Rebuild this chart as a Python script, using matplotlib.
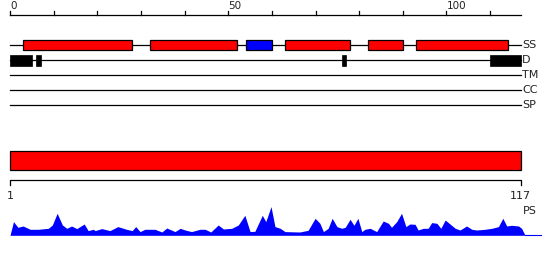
import numpy as np
import matplotlib
matplotlib.use('Agg')
import matplotlib.pyplot as plt
from matplotlib.patches import Rectangle

# sequence length and ruler
seq_len = 117
ruler_ticks = np.arange(0, 111, 10)
ruler_labels = [0, 50, 100]

# secondary structure (start, end, type)
ss_start = [3, 32, 54, 63, 82, 93]
ss_end = [28, 52, 60, 78, 90, 114]
ss_type = ['H', 'H', 'E', 'H', 'H', 'H']
ss_colors = {'H': '#ff0000', 'E': '#0000ff'}

# disordered regions
dis_start = [0, 6, 76, 110]
dis_end = [5, 7, 77, 117]

track_names = ['SS', 'D', 'TM', 'CC', 'SP']

# domain bar
dom_start, dom_end = 1, 117

# profile (PS)
ps_pos = [0.0, 0.8, 1.8, 3.0, 4.6, 6.5, 8.8, 9.7, 10.8, 12.0, 13.0, 14.1, 15.3,
          17.0, 17.9, 19.1, 19.5, 21.0, 22.9, 24.7, 26.7, 28.0, 28.8, 29.8, 30.9,
          33.2, 34.8, 35.9, 37.8, 39.0, 40.1, 41.6, 43.5, 44.7, 46.0, 47.7, 48.9,
          50.8, 52.3, 53.8, 55.0, 56.1, 57.8, 58.6, 59.8, 60.7, 61.9, 63.0, 66.4,
          68.3, 69.9, 71.0, 71.8, 72.9, 73.8, 74.9, 76.0, 76.8, 77.9, 78.8, 79.7,
          80.6, 81.3, 82.5, 84.0, 85.5, 86.7, 87.4, 88.6, 89.7, 90.7, 91.6, 92.8,
          93.5, 94.7, 95.8, 96.6, 97.8, 98.7, 99.7, 100.8, 102.0, 103.1, 104.6,
          105.8, 106.9, 108.8, 110.4, 111.9, 112.9, 113.8, 114.9, 116.5, 117.2, 118.0]
ps_val = [0, 13.7, 8, 9.3, 6, 6, 7, 10.3, 22, 10.3, 7, 9.3, 6.7,
          11.3, 4.7, 6, 4.7, 6.7, 4.7, 8.7, 6, 4.7, 8.7, 3.7, 6,
          6, 3.3, 7.3, 3.7, 7, 5.3, 3.7, 6, 6, 3.3, 10.3, 6.3,
          7, 10.3, 20, 3.7, 4, 20, 13.7, 28.7, 8.7, 7, 3.7, 3.3,
          5, 17, 12, 3.7, 7, 17, 8.7, 7, 8, 16, 10, 17,
          3.7, 6, 7, 3.7, 14.3, 12, 8, 13.7, 22, 8.7, 11.3, 11,
          5.3, 7, 7, 12.7, 12, 7, 15.3, 11.3, 7, 5.3, 9.3,
          6, 5.3, 6, 7, 8.7, 17, 9.3, 10, 9.3, 7, 0]
ps_line_end = 121.6

# layout (figure pixels, y down)
W, H = 550, 260
px_per_res = 4.365
x0 = 10
ruler_y = 15
track_y = [45.3, 60.3, 75.3, 90.3, 105.3]
ss_h = 10
dis_h = 10.7
dom_top, dom_bot = 150.7, 170.3
brk_y = 180.3
ps_base = 235.3

fig = plt.figure(figsize=(W / 100, H / 100), dpi=100)
ax = fig.add_axes([0, 0, 1, 1])
ax.set_xlim(-x0 / px_per_res, (W - x0) / px_per_res)
ax.set_ylim(H, 0)
ax.axis('off')

lw = 0.9
tc = '#222222'

# ruler
ax.plot([0, seq_len], [ruler_y, ruler_y], color='black', lw=lw)
for t in ruler_ticks:
    ax.plot([t, t], [ruler_y, ruler_y - 4.5], color='black', lw=lw)
for t in ruler_labels:
    ax.text(t + 0.1, ruler_y - 4, str(t), ha='left', va='bottom', fontsize=7.5, color=tc)

# track lines and labels
for y, name in zip(track_y, track_names):
    ax.plot([0, seq_len], [y, y], color='black', lw=lw, zorder=1)
    ax.text(seq_len + 0.3, y, name, ha='left', va='center', fontsize=8, color=tc)

# secondary structure
for s, e, t in zip(ss_start, ss_end, ss_type):
    ax.add_patch(Rectangle((s, track_y[0] - ss_h / 2), e - s, ss_h,
                           facecolor=ss_colors[t], edgecolor='black', lw=lw, zorder=2))

# disorder
for s, e in zip(dis_start, dis_end):
    ax.add_patch(Rectangle((s, track_y[1] - dis_h / 2), e - s, dis_h,
                           facecolor='black', edgecolor='black', lw=0.5, zorder=2))

# domain bar
ax.add_patch(Rectangle((dom_start - 1, dom_top), dom_end - dom_start + 1, dom_bot - dom_top,
                       facecolor='#ff0000', edgecolor='black', lw=lw))
ax.plot([dom_start - 1, dom_start - 1, dom_end, dom_end],
        [brk_y + 4.7, brk_y, brk_y, brk_y + 4.7], color='black', lw=lw)
ax.text(dom_start - 1, brk_y + 11, str(dom_start), ha='center', va='top', fontsize=8, color=tc)
ax.text(dom_end, brk_y + 11, str(dom_end), ha='center', va='top', fontsize=8, color=tc)

# profile
ps_pos = np.array(ps_pos)
ps_val = np.array(ps_val)
ax.fill_between(ps_pos, ps_base, ps_base - ps_val, color='#0000ff', lw=0)
ax.plot([ps_pos[-1], ps_line_end], [ps_base, ps_base], color='#0000ff', lw=0.8)
ax.text(seq_len + 0.6, 211, 'PS', ha='left', va='center', fontsize=8, color=tc)

fig.savefig('out.png', dpi=100)
